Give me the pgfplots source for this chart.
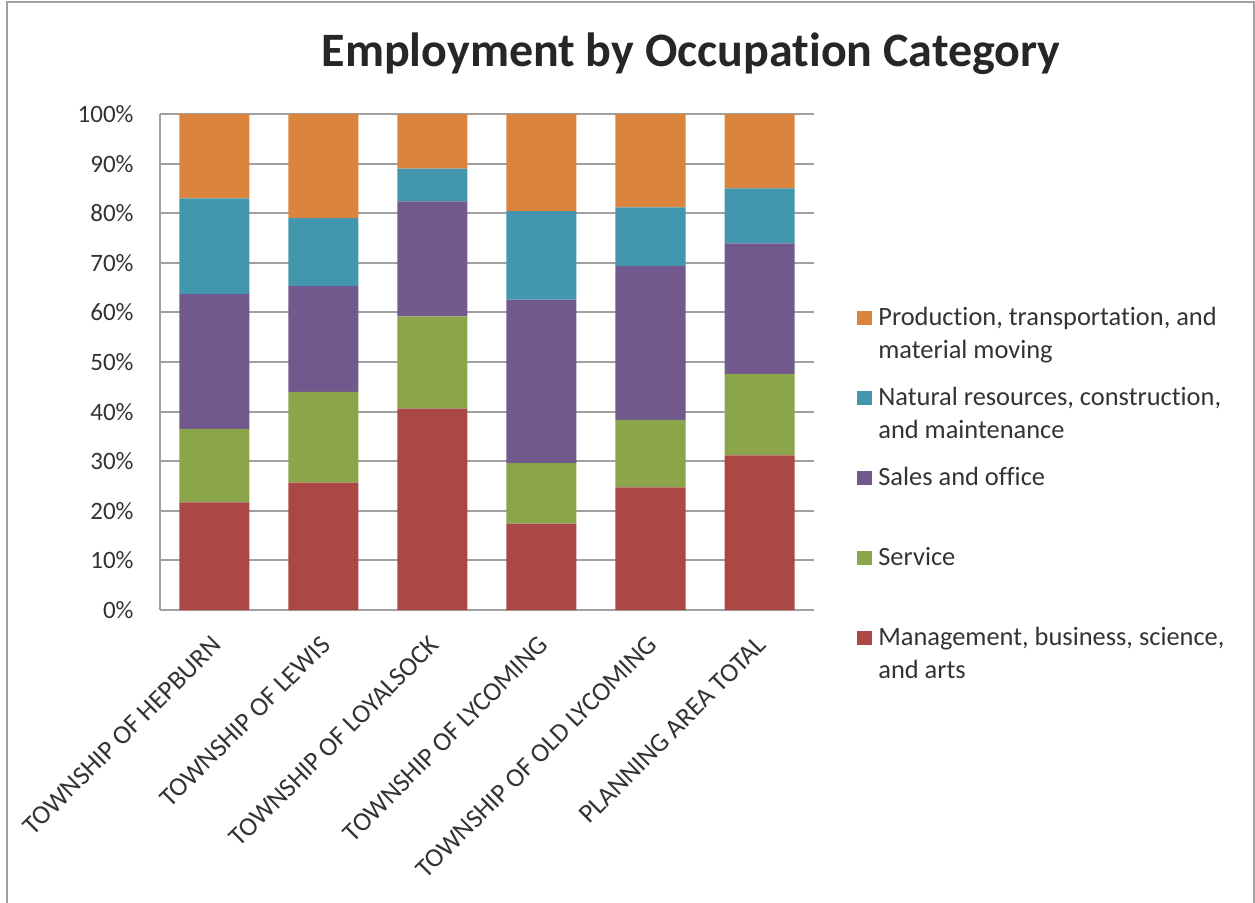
\documentclass[border=0pt]{standalone}
\usepackage{pgfplots}
\pgfplotsset{compat=1.18}
\usepackage{pgfplotstable}
\usepackage{fontspec}
\setmainfont{Carlito}[Ligatures=NoCommon]

\definecolor{cMgmt}{HTML}{AB4745}
\definecolor{cServ}{HTML}{8AA54A}
\definecolor{cSales}{HTML}{72598D}
\definecolor{cNat}{HTML}{4297AF}
\definecolor{cProd}{HTML}{DB843D}
\definecolor{gridgray}{HTML}{A0A0A0}
\definecolor{txtgray}{HTML}{333333}

% shares in percent, bottom to top
\pgfplotstableread{
x mgmt serv sales nat prod
0 21.7 14.8 27.2 19.3 17.0
1 25.7 18.3 21.3 13.7 21.0
2 40.6 18.6 23.2 6.6 11.0
3 17.4 12.2 33.0 17.8 19.6
4 24.7 13.6 31.1 11.8 18.8
5 31.2 16.4 26.3 11.1 15.0
}\occ

\begin{document}
\begin{tikzpicture}
\useasboundingbox (0,0) rectangle (627.5pt,451pt);
\draw[gridgray, line width=1pt] (3.5pt,-2pt) -- (3.5pt,450pt) -- (627pt,450pt) -- (627pt,-2pt);
\node[anchor=base, font=\bfseries\fontsize{24}{29}\selectfont, text=black!85] at (345.5pt,417.5pt) {Employment by Occupation Category};
\begin{axis}[
  at={(80pt,146pt)}, anchor=south west,
  scale only axis, width=327pt, height=248pt,
  ybar stacked, bar width=35pt,
  xmin=-0.5, xmax=5.5, ymin=0, ymax=100,
  axis x line*=bottom, axis y line*=left,
  axis line style={gridgray, line width=1pt},
  ymajorgrids, grid style={gridgray, line width=1pt},
  major tick length=0pt,
  xtick=data,
  xticklabels={TOWNSHIP OF HEPBURN, TOWNSHIP OF LEWIS, TOWNSHIP OF LOYALSOCK, TOWNSHIP OF LYCOMING, TOWNSHIP OF OLD LYCOMING, PLANNING AREA TOTAL},
  ytick={0,10,...,100},
  /pgf/number format/assume math mode=true,
  yticklabel={\pgfmathprintnumber{\tick}\%},
  tick label style={text=txtgray},
  yticklabel style={font=\fontsize{12.5}{15}\selectfont, inner sep=0pt, xshift=-13pt},
  xticklabel style={font=\fontsize{13.3}{16}\selectfont, inner sep=0pt, xshift=-2pt, yshift=-12pt, rotate=45, anchor=north east},
  reverse legend,
  legend style={at={(axis description cs:1.0657,0.615)}, anchor=north west,
    draw=none, fill=none, inner sep=0pt, row sep=10pt, column sep=3pt,
    font=\fontsize{13.2}{16.5}\selectfont, text=txtgray,
    nodes={inner sep=0pt, text height=10pt, text depth=20pt},
    cells={anchor=base west}},
  every axis plot post/.append style={draw=none,
    legend image code/.code={\fill[##1] (0pt,0pt) rectangle (7.5pt,7pt);}},
]
\addplot[fill=cMgmt] table[x=x, y=mgmt] {\occ};
\addlegendentry{\begin{tabular}[t]{@{}l@{}}Management, business, science,\\and arts\end{tabular}}
\addplot[fill=cServ] table[x=x, y=serv] {\occ};
\addlegendentry{Service}
\addplot[fill=cSales] table[x=x, y=sales] {\occ};
\addlegendentry{Sales and office}
\addplot[fill=cNat] table[x=x, y=nat] {\occ};
\addlegendentry{\begin{tabular}[t]{@{}l@{}}Natural resources, construction,\\and maintenance\end{tabular}}
\addplot[fill=cProd] table[x=x, y=prod] {\occ};
\addlegendentry{\begin{tabular}[t]{@{}l@{}}Production, transportation, and\\material moving\end{tabular}}
\end{axis}
\end{tikzpicture}
\end{document}
